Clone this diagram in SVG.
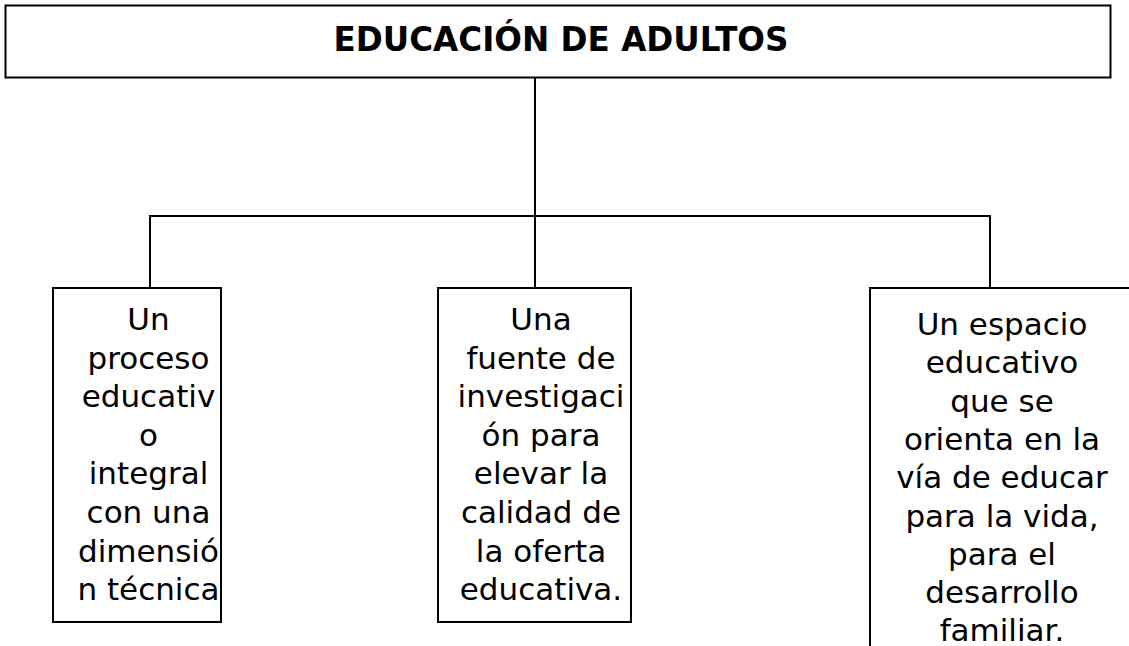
<svg xmlns="http://www.w3.org/2000/svg" width="1129" height="646" viewBox="0 0 1129 646">
<style>
.box{fill:#fff;stroke:#000;stroke-width:2}
.conn{fill:none;stroke:#000;stroke-width:2}
.title{font-family:"DejaVu Sans",Verdana,sans-serif;font-weight:bold;font-size:33px;fill:#000;text-anchor:middle}
.t{font-family:"DejaVu Sans",Verdana,sans-serif;font-size:31px;fill:#000;text-anchor:middle}
</style>
<defs>
<clipPath id="clipR"><rect x="860" y="280" width="280" height="361"/></clipPath>
</defs>
<rect width="1129" height="646" fill="#fff"/>
<g id="connectors">
<path class="conn" d="M535,77 V288"/>
<path class="conn" d="M150,288 V216 H990 V288"/>
</g>
<g id="root">
<rect class="box" x="5.5" y="5.5" width="1105" height="72"/>
<text class="title" x="561" y="51" textLength="455" lengthAdjust="spacingAndGlyphs">EDUCACIÓN DE ADULTOS</text>
</g>
<g id="node-left">
<rect class="box" x="53" y="288" width="168" height="334"/>
<text class="t" x="148.5" y="330">Un</text>
<text class="t" x="148.5" y="368.6">proceso</text>
<text class="t" x="148.5" y="407.2">educativ</text>
<text class="t" x="148.5" y="445.8">o</text>
<text class="t" x="148.5" y="484.4">integral</text>
<text class="t" x="148.5" y="523">con una</text>
<text class="t" x="148.5" y="561.6">dimensió</text>
<text class="t" x="148.5" y="600.2">n técnica</text>
</g>
<g id="node-middle">
<rect class="box" x="438" y="288" width="193" height="334"/>
<text class="t" x="541" y="330">Una</text>
<text class="t" x="541" y="368.6">fuente de</text>
<text class="t" x="541" y="407.2">investigaci</text>
<text class="t" x="541" y="445.8">ón para</text>
<text class="t" x="541" y="484.4">elevar la</text>
<text class="t" x="541" y="523">calidad de</text>
<text class="t" x="541" y="561.6">la oferta</text>
<text class="t" x="541" y="600.2">educativa.</text>
</g>
<g id="node-right">
<path class="conn" d="M1130,288 H870 V646"/>
<g clip-path="url(#clipR)">
<text class="t" x="1002" y="335">Un espacio</text>
<text class="t" x="1002" y="373.3">educativo</text>
<text class="t" x="1002" y="411.6">que se</text>
<text class="t" x="1002" y="449.9">orienta en la</text>
<text class="t" x="1002" y="488.2">vía de educar</text>
<text class="t" x="1002" y="526.5">para la vida,</text>
<text class="t" x="1002" y="564.8">para el</text>
<text class="t" x="1002" y="603.1">desarrollo</text>
<text class="t" x="1002" y="641.4">familiar.</text>
</g>
</g>
</svg>
